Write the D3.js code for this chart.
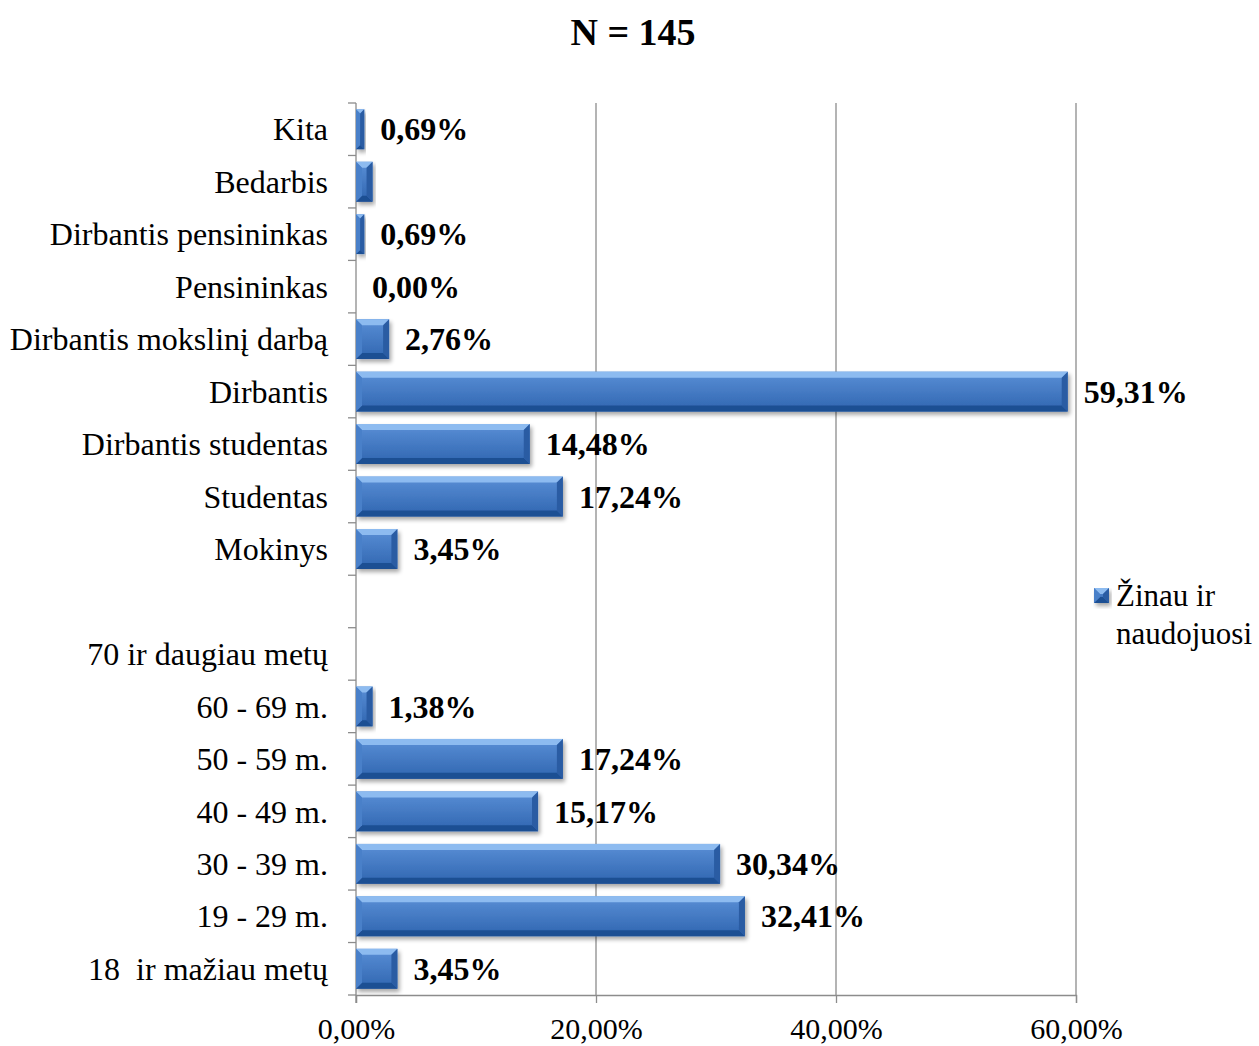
<!DOCTYPE html>
<html>
<head>
<meta charset="utf-8">
<script src="https://cdn.jsdelivr.net/npm/d3@7"></script>
<style>
  html, body { margin: 0; padding: 0; background: #fff; }
  svg { display: block; font-family: "Liberation Serif", "Times New Roman", serif; }
</style>
</head>
<body>
<svg id="chart" width="1259" height="1046"></svg>
<script>
// Categories listed top to bottom; the empty string is a spacer row between the two groups
const categories = [
  "Kita", "Bedarbis", "Dirbantis pensininkas", "Pensininkas",
  "Dirbantis mokslinį darbą", "Dirbantis", "Dirbantis studentas",
  "Studentas", "Mokinys", "", "70 ir daugiau metų", "60 - 69 m.",
  "50 - 59 m.", "40 - 49 m.", "30 - 39 m.", "19 - 29 m.", "18  ir mažiau metų"
];
// Share of respondents (percent) per category; null = no bar
const values = [
  0.69, 1.38, 0.69, 0.00, 2.76, 59.31, 14.48, 17.24, 3.45,
  null, null, 1.38, 17.24, 15.17, 30.34, 32.41, 3.45
];
// Whether a value label is printed next to the bar
const showLabel = [
  true, false, true, true, true, true, true, true, true,
  false, false, true, true, true, true, true, true
];
const xTicks = [0, 20, 40, 60];
const seriesName = ["Žinau ir", "naudojuosi"];
const title = "N = 145";

const svg = d3.select("#chart");
const FONT = "Liberation Serif, Times New Roman, serif";
const margin = { left: 356, right: 183, top: 103, bottom: 51 };
const W = 1259, H = 1046;

const x = d3.scaleLinear().domain([0, 60]).range([margin.left, W - margin.right]);
const y = d3.scaleBand().domain(d3.range(categories.length))
  .range([margin.top, H - margin.bottom]).paddingInner(0.24).paddingOuter(0.12);
const yStep = y.step();

const fmt = v => v.toFixed(2).replace(".", ",") + "%";

// Definitions: bar body gradient and soft drop shadow
const defs = svg.append("defs");
const grad = defs.append("linearGradient").attr("id", "barGrad")
  .attr("x1", 0).attr("y1", 0).attr("x2", 0).attr("y2", 1);
grad.append("stop").attr("offset", "0%").attr("stop-color", "#5a8fd6");
grad.append("stop").attr("offset", "100%").attr("stop-color", "#2f65b0");
const sh = defs.append("filter").attr("id", "shadow")
  .attr("x", "-20%").attr("y", "-20%").attr("width", "140%").attr("height", "160%");
sh.append("feGaussianBlur").attr("in", "SourceAlpha").attr("stdDeviation", 2);
sh.append("feOffset").attr("dx", 2).attr("dy", 3).attr("result", "off");
sh.append("feComponentTransfer").append("feFuncA").attr("type", "linear").attr("slope", 0.35);
const merge = sh.append("feMerge");
merge.append("feMergeNode");
merge.append("feMergeNode").attr("in", "SourceGraphic");

// Title
svg.append("text").attr("x", 633).attr("y", 45).attr("text-anchor", "middle")
  .attr("font-size", 38).attr("font-weight", "bold").text(title);

// Vertical gridlines
svg.append("g").selectAll("line").data(xTicks.filter(d => d > 0)).join("line")
  .attr("x1", d => x(d)).attr("x2", d => x(d))
  .attr("y1", margin.top).attr("y2", H - margin.bottom)
  .attr("stroke", "#8c8c8c").attr("stroke-width", 1.3);

// Bottom axis
const xAxis = svg.append("g").attr("transform", `translate(0,${H - margin.bottom})`)
  .call(d3.axisBottom(x).tickValues(xTicks).tickFormat(fmt).tickSize(8).tickPadding(15));
xAxis.select(".domain").attr("stroke", "#8c8c8c").attr("stroke-width", 1.3);
xAxis.selectAll(".tick line").attr("stroke", "#8c8c8c").attr("stroke-width", 1.3);
xAxis.selectAll(".tick text").attr("font-size", 30).attr("fill", "#000")
  .attr("font-family", FONT);

// Left axis with ticks at row boundaries
const leftG = svg.append("g");
leftG.append("line").attr("x1", x(0)).attr("x2", x(0))
  .attr("y1", margin.top).attr("y2", H - margin.bottom + 8)
  .attr("stroke", "#8c8c8c").attr("stroke-width", 1.3);
leftG.selectAll("line.tk").data(d3.range(categories.length + 1)).join("line").attr("class", "tk")
  .attr("x1", x(0) - 8).attr("x2", x(0))
  .attr("y1", i => margin.top + i * yStep).attr("y2", i => margin.top + i * yStep)
  .attr("stroke", "#8c8c8c").attr("stroke-width", 1.3);

// Category labels
svg.append("g").selectAll("text").data(categories).join("text")
  .attr("x", 328).attr("y", (d, i) => margin.top + (i + 0.5) * yStep)
  .attr("dy", "0.35em").attr("text-anchor", "end").attr("font-size", 32)
  .attr("xml:space", "preserve").style("white-space", "pre")
  .text(d => d);

// Bars with a bevelled look
function drawBevelBar(g, x0, y0, w, h) {
  const b = Math.min(6, w / 2, h / 2);
  const gg = g.append("g").attr("filter", "url(#shadow)");
  gg.append("rect").attr("x", x0).attr("y", y0).attr("width", w).attr("height", h)
    .attr("fill", "url(#barGrad)");
  // top bevel
  gg.append("polygon").attr("points",
    [[x0, y0], [x0 + w, y0], [x0 + w - b, y0 + b], [x0 + b, y0 + b]].join(" "))
    .attr("fill", "#8dbbf0");
  // bottom bevel
  gg.append("polygon").attr("points",
    [[x0, y0 + h], [x0 + w, y0 + h], [x0 + w - b, y0 + h - b], [x0 + b, y0 + h - b]].join(" "))
    .attr("fill", "#1f4f93");
  // left bevel
  gg.append("polygon").attr("points",
    [[x0, y0], [x0 + b, y0 + b], [x0 + b, y0 + h - b], [x0, y0 + h]].join(" "))
    .attr("fill", "#4a80c9");
  // right bevel
  gg.append("polygon").attr("points",
    [[x0 + w, y0], [x0 + w - b, y0 + b], [x0 + w - b, y0 + h - b], [x0 + w, y0 + h]].join(" "))
    .attr("fill", "#2a5ca3");
}

const barsG = svg.append("g");
values.forEach((v, i) => {
  if (v === null || v <= 0) return;
  drawBevelBar(barsG, x(0), y(i), x(v) - x(0), y.bandwidth());
});

// Value labels
svg.append("g").selectAll("text")
  .data(values.map((v, i) => ({ v, i })).filter(d => d.v !== null && showLabel[d.i]))
  .join("text")
  .attr("x", d => x(d.v) + 16)
  .attr("y", d => margin.top + (d.i + 0.5) * yStep)
  .attr("dy", "0.35em").attr("font-size", 32).attr("font-weight", "bold")
  .text(d => fmt(d.v));

// Legend
const lg = svg.append("g");
drawBevelBar(lg, 1094, 588, 15, 15);
lg.selectAll("text").data(seriesName).join("text")
  .attr("x", 1116).attr("y", (d, i) => 606 + i * 38)
  .attr("font-size", 31).text(d => d);
</script>
</body>
</html>
